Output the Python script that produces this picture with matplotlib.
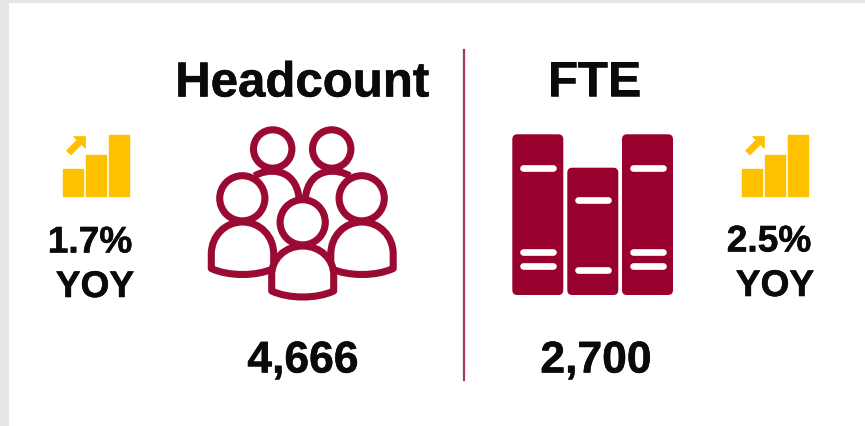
import matplotlib
matplotlib.use("Agg")
import matplotlib.pyplot as plt
import matplotlib.patheffects as pe
from matplotlib.patches import Rectangle, Circle, FancyBboxPatch, PathPatch
from matplotlib.path import Path

# --- content -------------------------------------------------------------
titles = ["Headcount", "FTE"]
totals = ["4,666", "2,700"]
yoy_values = ["1.7%", "2.5%"]
yoy_label = "YOY"
icon_bar_heights = [27, 41, 61]

CRIMSON = "#9A0A33"
BOOK = "#98002E"
GOLD = "#FFC000"
GREY = "#E6E6E6"
INK = "#0A0A0A"

plt.rcParams["font.family"] = ["Liberation Sans", "DejaVu Sans"]
fig = plt.figure(figsize=(8.65, 4.27), dpi=100, facecolor=GREY)
ax = fig.add_axes([0, 0, 1, 1])
ax.set_xlim(0, 865)
ax.set_ylim(426, -1)
ax.axis("off")

ax.add_patch(Rectangle((9, 3), 856, 424, fc="white", ec="none", zorder=0))
ax.plot([464, 464], [49.5, 379.5], color="#A93A57", lw=1.6, zorder=1)


def label(x, y, s, size):
    ax.text(x, y, s, ha="center", va="center", fontsize=size,
            fontweight="bold", color=INK, zorder=6,
            path_effects=[pe.withStroke(linewidth=0.4, foreground=INK)])


label(302, 84, titles[0], 35.4)
label(594, 83, titles[1], 35.4)
label(303, 361, totals[0], 32)
label(596, 361, totals[1], 32)
label(90, 243, yoy_values[0], 26.7)
label(95, 287.5, yoy_label, 26.7)
label(769, 242, yoy_values[1], 26.7)
label(775, 286.5, yoy_label, 26.7)


# --- growth icon ---------------------------------------------------------
def growth_icon(dx):
    lefts = [63.1, 86.1, 109.1]
    bars = ax.bar([l + dx for l in lefts], [-h for h in icon_bar_heights], width=19.6,
                  bottom=196.4, align="edge", color=GOLD, edgecolor=GOLD, lw=1.0, zorder=2)
    for b in bars:
        b.set_joinstyle("round")
    ax.plot([68.5 + dx, 80 + dx], [153, 141.5], color=GOLD, lw=5,
            solid_capstyle="butt", zorder=2)
    verts = [(72.7 + dx, 136), (85 + dx, 136), (85 + dx, 148.3)]
    ax.add_patch(plt.Polygon(verts, closed=True, fc=GOLD, ec=GOLD, lw=0.5, zorder=2))


growth_icon(0)
growth_icon(679)


# --- people icon ---------------------------------------------------------
LW = 5.1


def head(cx, cy, r, z):
    ax.add_patch(Circle((cx, cy), r, fc="white", ec=CRIMSON, lw=LW, zorder=z))


def body(cx, top, half, y_side, y_foot, sag, z):
    """Rounded shoulders, straight sides, shallow curved foot."""
    k = 0.56
    verts = [(cx - half, y_foot), (cx - half, y_side),
             (cx - half, y_side - (y_side - top) * k), (cx - half * k, top), (cx, top),
             (cx + half * k, top), (cx + half, y_side - (y_side - top) * k), (cx + half, y_side),
             (cx + half, y_foot),
             (cx + half * 0.45, y_foot + sag), (cx - half * 0.45, y_foot + sag), (cx - half, y_foot),
             (cx - half, y_foot)]
    codes = [Path.MOVETO, Path.LINETO, Path.CURVE4, Path.CURVE4, Path.CURVE4,
             Path.CURVE4, Path.CURVE4, Path.CURVE4, Path.LINETO,
             Path.CURVE4, Path.CURVE4, Path.CURVE4, Path.CLOSEPOLY]
    ax.add_patch(PathPatch(Path(verts, codes), fc="white", ec=CRIMSON, lw=LW,
                           joinstyle="round", zorder=z))


# back row shoulders and heads
for cx, m in ((272.7, 1), (331.7, -1)):
    pts = [(cx - 18 * m, 176), (cx - 8 * m, 169), (cx + 23 * m, 165), (cx + 26.5 * m, 199)]
    ax.add_patch(PathPatch(Path(pts, [Path.MOVETO, Path.CURVE4, Path.CURVE4, Path.CURVE4]),
                           fc="none", ec=CRIMSON, lw=LW, capstyle="butt", zorder=2))
    head(cx, 149, 19.2, 3)

# middle row
body(242.5, 222, 31.2, 254, 268.5, 8, 4)
body(362, 222, 31.2, 254, 268.5, 8, 4)
head(242.3, 198.3, 22.6, 5)
head(361.7, 198.3, 22.6, 5)

# front
body(302.7, 246, 31, 275, 291, 8, 7)
head(302.7, 222.3, 22.6, 8)


# --- books icon ----------------------------------------------------------
def book(x0, x1, top, slots):
    ax.add_patch(FancyBboxPatch((x0 + 5, top + 5), x1 - x0 - 10, 295 - top - 10,
                                boxstyle="round,pad=5,rounding_size=5",
                                fc=BOOK, ec="none", zorder=2))
    for y in slots:
        ax.plot([x0 + 10.5, x1 - 10.5], [y, y], color="white", lw=4.8,
                solid_capstyle="round", zorder=3)


book(512.3, 563.3, 134.3, [167.7, 252, 266.3])
book(567.3, 618.3, 167.7, [200.3, 270])
book(622, 673, 134.3, [167.7, 252, 266.3])

fig.savefig("out.png", dpi=100, facecolor=GREY)
